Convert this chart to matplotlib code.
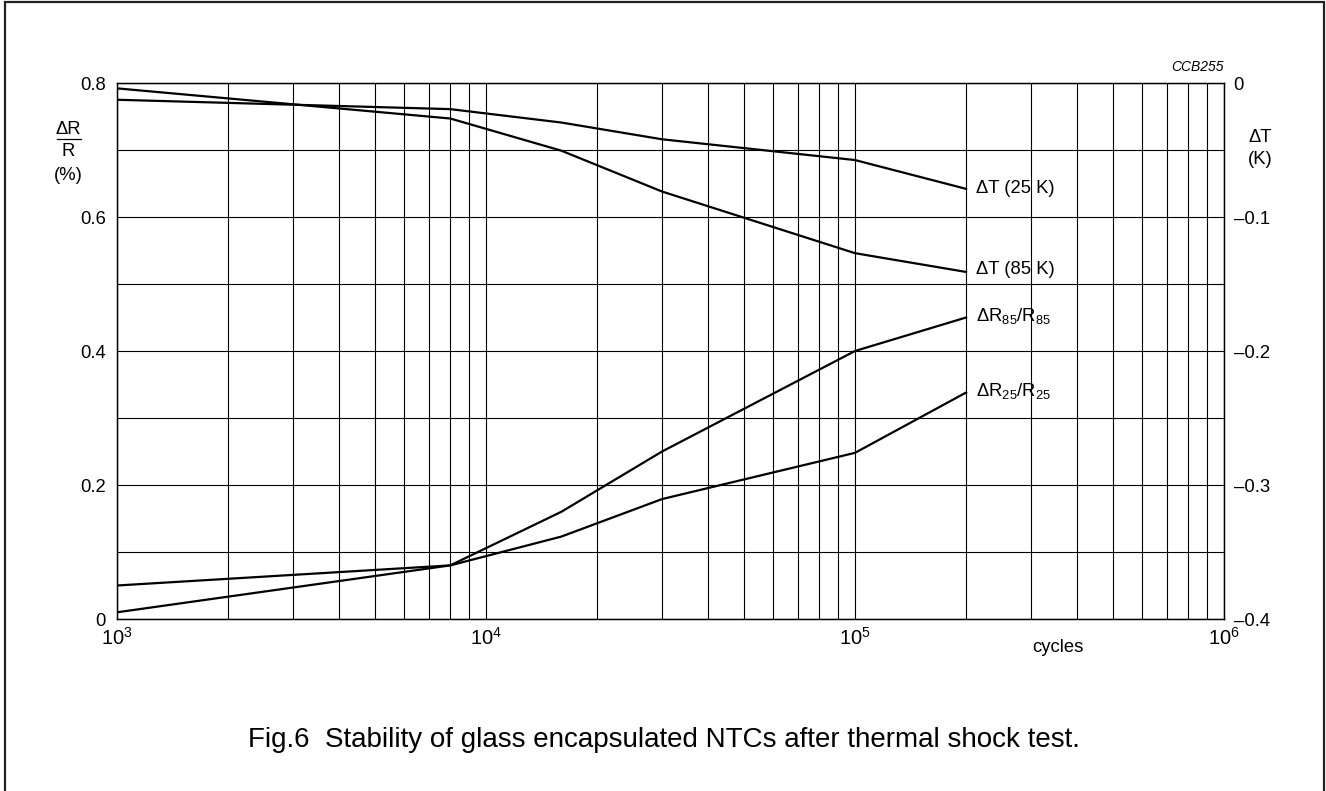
import numpy as np
import matplotlib
matplotlib.use("Agg")
import matplotlib.pyplot as plt
from matplotlib.patches import Rectangle
from matplotlib.lines import Line2D
from matplotlib.ticker import LogLocator, LogFormatterMathtext, MultipleLocator, FixedLocator

plt.rcParams['font.family'] = ['Liberation Sans', 'DejaVu Sans']
plt.rcParams['mathtext.fontset'] = 'custom'
plt.rcParams['mathtext.rm'] = 'Liberation Sans'
plt.rcParams['mathtext.it'] = 'Liberation Sans:italic'
plt.rcParams['mathtext.default'] = 'regular'

# data
cycles = [1e3, 8e3, 1.6e4, 3e4, 1e5, 2e5]
dR85 = [0.01, 0.08, 0.16, 0.25, 0.40, 0.45]      # %
dR25 = [0.05, 0.08, 0.123, 0.179, 0.248, 0.338]  # %
dT25 = [-0.0125, -0.0195, -0.0295, -0.042, -0.0575, -0.079]  # K
dT85 = [-0.004, -0.0265, -0.0505, -0.081, -0.127, -0.141]    # K

left_ticks = [0, 0.2, 0.4, 0.6, 0.8]
right_ticks = [-0.4, -0.3, -0.2, -0.1, 0]
right_labels = ['\u20130.4', '\u20130.3', '\u20130.2', '\u20130.1', '0']

fs = 13.3
W, H = 1326, 791
fig = plt.figure(figsize=(W / 100, H / 100), dpi=100)
ax = fig.add_axes([117 / W, 1 - 619 / H, (1224 - 117) / W, (619 - 83) / H])

ax.set_xscale('log')
ax.set_xlim(1e3, 1e6)
ax.set_ylim(0, 0.8)
ax.xaxis.set_major_locator(LogLocator(base=10))
ax.xaxis.set_major_formatter(LogFormatterMathtext())
ax.xaxis.set_minor_locator(LogLocator(base=10, subs=np.arange(2, 10)))
ax.xaxis.set_minor_formatter(plt.NullFormatter())
ax.yaxis.set_major_locator(FixedLocator(left_ticks))
ax.yaxis.set_minor_locator(MultipleLocator(0.1))
ax.set_yticklabels(['0', '0.2', '0.4', '0.6', '0.8'])
ax.grid(which='both', color='black', lw=0.8)
ax.tick_params(which='both', length=0, labelsize=fs, pad=8)
ax.tick_params(axis='x', labelsize=14.5, pad=6)
for s in ax.spines.values():
    s.set_linewidth(1.0)

ax2 = ax.twinx()
ax2.set_ylim(-0.4, 0)
ax2.set_yticks(right_ticks)
ax2.set_yticklabels(right_labels)
ax2.tick_params(length=0, labelsize=fs, pad=7)

lw = 1.6
ax.plot(cycles, dR85, color='black', lw=lw)
ax.plot(cycles, dR25, color='black', lw=lw)
ax2.plot(cycles, dT25, color='black', lw=lw)
ax2.plot(cycles, dT85, color='black', lw=lw)

ax2.annotate('\u0394T (25 K)', xy=(cycles[-1], dT25[-1]), xytext=(7, 0),
             textcoords='offset points', va='center', fontsize=fs)
ax2.annotate('\u0394T (85 K)', xy=(cycles[-1], dT85[-1]), xytext=(7, 2),
             textcoords='offset points', va='center', fontsize=fs)
ax.annotate('\u0394R$_{85}$/R$_{85}$', xy=(cycles[-1], dR85[-1]), xytext=(7, 1),
            textcoords='offset points', va='center', fontsize=fs)
ax.annotate('\u0394R$_{25}$/R$_{25}$', xy=(cycles[-1], dR25[-1]), xytext=(7, 1),
            textcoords='offset points', va='center', fontsize=fs)

# axis titles
fig.text(68 / W, 1 - 129 / H, '\u0394R', ha='center', va='center', fontsize=fs)
fig.add_artist(Line2D([57 / W, 81 / W], [1 - 139 / H, 1 - 139 / H], color='black', lw=0.9))
fig.text(68 / W, 1 - 152 / H, 'R', ha='center', va='center', fontsize=fs)
fig.text(68 / W, 1 - 175 / H, '(%)', ha='center', va='center', fontsize=fs)
fig.text(1260 / W, 1 - 138 / H, '\u0394T', ha='center', va='center', fontsize=fs)
fig.text(1260 / W, 1 - 159 / H, '(K)', ha='center', va='center', fontsize=fs)
fig.text(1058 / W, 1 - 648 / H, 'cycles', ha='center', va='center', fontsize=fs)
fig.text(1197 / W, 1 - 67 / H, 'CCB255', ha='center', va='center', fontsize=10, style='italic')

fig.text(664 / W, 1 - 740 / H, 'Fig.6  Stability of glass encapsulated NTCs after thermal shock test.',
         ha='center', va='center', fontsize=20)

# outer frame (bottom edge runs off the image)
fig.add_artist(Rectangle((4.5 / W, -0.05), (1324 - 4.5) / W, 1.05 - 2.5 / H,
                         transform=fig.transFigure, fill=False, ec='#222222', lw=1.6, clip_on=False))

fig.savefig('out.png', dpi=100)
